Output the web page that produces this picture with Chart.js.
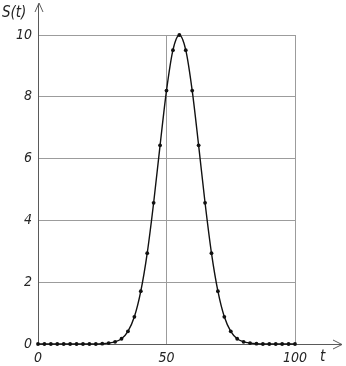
<!DOCTYPE html>
<html>
<head>
<meta charset="utf-8">
<script src="https://cdn.jsdelivr.net/npm/chart.js@4"></script>
<style>
html,body{margin:0;padding:0;background:#fff;}
#wrap{width:346px;height:366px;position:relative;}
</style>
</head>
<body>
<div id="wrap"><canvas id="c" width="346" height="366"></canvas></div>
<script>
const tValues = [0,2.5,5,7.5,10,12.5,15,17.5,20,22.5,25,27.5,30,32.5,35,37.5,40,42.5,45,47.5,50,52.5,55,57.5,60,62.5,65,67.5,70,72.5,75,77.5,80,82.5,85,87.5,90,92.5,95,97.5,100];
const sValues = [0,0,0,0,0,0,0,0,0,0,0.01,0.03,0.07,0.17,0.41,0.88,1.71,2.94,4.57,6.43,8.2,9.51,10,9.51,8.2,6.43,4.57,2.94,1.71,0.88,0.41,0.17,0.07,0.03,0.01,0,0,0,0,0,0];
const xTicks = [0,50,100];
const yTicks = [0,2,4,6,8,10];
const xLabel = 't';
const yLabel = 'S(t)';

const FONT = "'Liberation Sans Narrow','DejaVu Sans Condensed','Liberation Sans',sans-serif";
const TEXT = '#262626';
const GRID = '#9c9c9c';
const AXIS = '#5a5a5a';

const axesPlugin = {
  id: 'axesArrows',
  beforeDatasetsDraw(chart) {
    const {ctx, scales:{x, y}} = chart;
    const x0 = Math.round(x.getPixelForValue(0)) + 0.5;
    const y0 = Math.round(y.getPixelForValue(0)) + 0.5;
    ctx.save();
    ctx.strokeStyle = AXIS;
    ctx.lineWidth = 1;
    // y axis
    ctx.beginPath();
    ctx.moveTo(x0, y0);
    ctx.lineTo(x0, 4);
    ctx.stroke();
    ctx.beginPath();
    ctx.moveTo(x0 - 3.5, 12);
    ctx.lineTo(x0 + 0.5, 3);
    ctx.lineTo(x0 + 4.5, 12);
    ctx.stroke();
    // x axis
    ctx.beginPath();
    ctx.moveTo(x0, y0);
    ctx.lineTo(342, y0);
    ctx.stroke();
    ctx.beginPath();
    ctx.moveTo(333, y0 - 4.5);
    ctx.lineTo(342, y0);
    ctx.lineTo(333, y0 + 4.5);
    ctx.stroke();
    // labels
    ctx.fillStyle = TEXT;
    ctx.font = 'italic 15px ' + FONT;
    ctx.textBaseline = 'middle';
    ctx.textAlign = 'left';
    ctx.fillText(yLabel, 2, 13);
    ctx.fillText(xLabel, 320, 357);
    ctx.restore();
  }
};

new Chart(document.getElementById('c'), {
  type: 'line',
  data: {
    datasets: [{
      data: tValues.map((t, i) => ({x: t, y: sValues[i]})),
      borderColor: '#111',
      borderWidth: 1.4,
      backgroundColor: '#111',
      pointRadius: 1.9,
      pointBorderWidth: 0,
      pointBackgroundColor: '#111',
      cubicInterpolationMode: 'monotone',
      fill: false,
      clip: false
    }]
  },
  plugins: [axesPlugin],
  options: {
    responsive: false,
    animation: false,
    devicePixelRatio: 1,
    layout: { padding: { top: 35, right: 51, left: 0, bottom: 0 } },
    plugins: { legend: { display: false }, tooltip: { enabled: false } },
    scales: {
      x: {
        type: 'linear',
        min: 0, max: 100,
        afterFit(s) { s.height = 22; },
        afterBuildTicks(s) { s.ticks = xTicks.map(v => ({value: v})); },
        border: { display: false },
        grid: {
          drawTicks: false,
          color: (c) => c.tick && c.tick.value === 0 ? 'rgba(0,0,0,0)' : GRID,
          lineWidth: 1
        },
        ticks: {
          padding: 6,
          color: TEXT,
          font: { family: FONT, size: 14, style: 'italic' },
          maxRotation: 0
        }
      },
      y: {
        type: 'linear',
        min: 0, max: 10,
        afterFit(s) { s.width = 38; },
        afterBuildTicks(s) { s.ticks = yTicks.map(v => ({value: v})); },
        border: { display: false },
        grid: {
          drawTicks: false,
          color: (c) => c.tick && c.tick.value === 0 ? 'rgba(0,0,0,0)' : GRID,
          lineWidth: 1
        },
        ticks: {
          padding: 6,
          color: TEXT,
          font: { family: FONT, size: 14, style: 'italic' }
        }
      }
    }
  }
});
</script>
</body>
</html>
